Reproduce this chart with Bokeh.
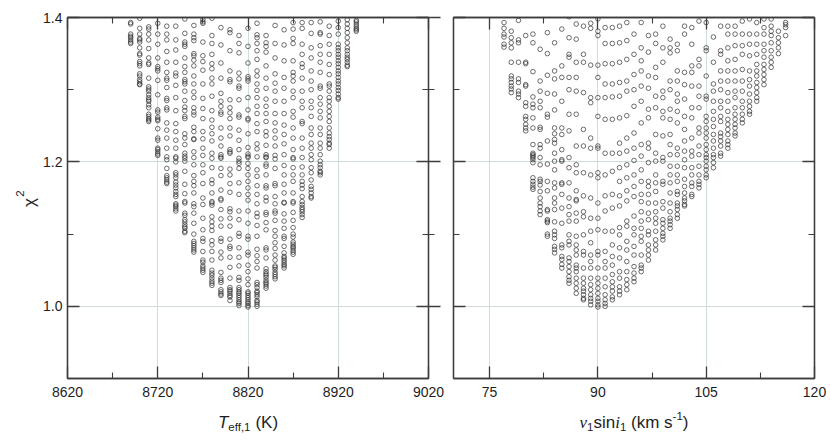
import math
from bokeh.plotting import figure
from bokeh.models import Range1d, FixedTicker, LinearAxis, Label, PrintfTickFormatter, CustomJSTickFormatter
from bokeh.layouts import row, column
from bokeh.embed import file_html
from bokeh.resources import INLINE

# ---------------- data: left panel, chi^2 values per Teff,1 grid column ----------------
T8690 = [1.393, 1.391, 1.377, 1.374, 1.372, 1.369, 1.366, 1.364]
T8700 = [1.399, 1.385, 1.377, 1.371, 1.369, 1.366, 1.358, 1.350, 1.348, 1.339, 1.336, 1.333, 1.322, 1.319, 1.314, 1.311, 1.308, 1.307]
T8710 = [1.387, 1.384, 1.377, 1.369, 1.357, 1.344, 1.337, 1.335, 1.316, 1.304, 1.301, 1.298, 1.293, 1.289, 1.286, 1.284, 1.279, 1.275, 1.266, 1.263, 1.260, 1.258, 1.256]
T8720 = [1.392, 1.377, 1.363, 1.344, 1.332, 1.329, 1.326, 1.313, 1.293, 1.272, 1.269, 1.262, 1.259, 1.257, 1.246, 1.233, 1.230, 1.219, 1.217, 1.214, 1.211, 1.209]
T8730 = [1.388, 1.377, 1.369, 1.353, 1.338, 1.324, 1.316, 1.313, 1.303, 1.288, 1.285, 1.275, 1.272, 1.254, 1.244, 1.233, 1.219, 1.207, 1.203, 1.191, 1.181, 1.178, 1.175, 1.172, 1.170]
T8740 = [1.388, 1.369, 1.355, 1.338, 1.323, 1.319, 1.306, 1.289, 1.271, 1.253, 1.242, 1.230, 1.219, 1.207, 1.205, 1.200, 1.185, 1.182, 1.178, 1.172, 1.168, 1.164, 1.159, 1.155, 1.152, 1.142, 1.140, 1.138, 1.135, 1.132]
T8750 = [1.398, 1.378, 1.366, 1.363, 1.360, 1.344, 1.332, 1.324, 1.314, 1.311, 1.308, 1.298, 1.285, 1.276, 1.271, 1.263, 1.260, 1.239, 1.233, 1.224, 1.212, 1.208, 1.205, 1.201, 1.187, 1.169, 1.156, 1.145, 1.143, 1.129, 1.126, 1.120, 1.117, 1.113, 1.110, 1.108, 1.104, 1.102]
T8760 = [1.389, 1.377, 1.372, 1.368, 1.350, 1.347, 1.341, 1.333, 1.319, 1.308, 1.297, 1.289, 1.275, 1.269, 1.265, 1.248, 1.242, 1.232, 1.231, 1.214, 1.206, 1.196, 1.181, 1.173, 1.167, 1.157, 1.142, 1.138, 1.129, 1.115, 1.100, 1.090, 1.087, 1.084, 1.081, 1.078, 1.075]
T8770 = [1.397, 1.394, 1.392, 1.366, 1.347, 1.339, 1.327, 1.308, 1.288, 1.274, 1.260, 1.242, 1.232, 1.219, 1.209, 1.196, 1.185, 1.170, 1.150, 1.141, 1.122, 1.106, 1.094, 1.090, 1.076, 1.064, 1.061, 1.056, 1.053, 1.050, 1.047]
T8780 = [1.399, 1.375, 1.364, 1.349, 1.336, 1.329, 1.316, 1.308, 1.291, 1.271, 1.258, 1.248, 1.239, 1.229, 1.212, 1.205, 1.192, 1.175, 1.170, 1.157, 1.145, 1.143, 1.140, 1.124, 1.117, 1.111, 1.105, 1.091, 1.085, 1.076, 1.064, 1.050, 1.046, 1.043, 1.039, 1.035, 1.032, 1.029]
T8790 = [1.386, 1.362, 1.337, 1.316, 1.295, 1.284, 1.277, 1.269, 1.266, 1.247, 1.233, 1.222, 1.210, 1.207, 1.205, 1.191, 1.181, 1.161, 1.149, 1.147, 1.134, 1.121, 1.111, 1.094, 1.090, 1.075, 1.067, 1.047, 1.039, 1.036, 1.033, 1.023, 1.020, 1.017, 1.015]
T8800 = [1.383, 1.379, 1.354, 1.326, 1.314, 1.311, 1.286, 1.275, 1.268, 1.260, 1.247, 1.236, 1.217, 1.214, 1.212, 1.190, 1.182, 1.170, 1.158, 1.135, 1.131, 1.122, 1.111, 1.093, 1.083, 1.080, 1.068, 1.054, 1.039, 1.026, 1.023, 1.021, 1.018, 1.015, 1.013, 1.008]
T8810 = [1.375, 1.364, 1.351, 1.323, 1.315, 1.305, 1.302, 1.286, 1.265, 1.262, 1.244, 1.230, 1.217, 1.205, 1.201, 1.198, 1.191, 1.171, 1.155, 1.132, 1.120, 1.101, 1.097, 1.081, 1.068, 1.056, 1.040, 1.036, 1.026, 1.023, 1.020, 1.018, 1.015, 1.012, 1.009, 1.006, 1.004, 1.001]
T8820 = [1.385, 1.360, 1.337, 1.318, 1.315, 1.312, 1.289, 1.272, 1.260, 1.258, 1.239, 1.220, 1.211, 1.208, 1.206, 1.198, 1.191, 1.182, 1.173, 1.164, 1.155, 1.147, 1.132, 1.115, 1.097, 1.093, 1.075, 1.071, 1.057, 1.048, 1.038, 1.030, 1.020, 1.018, 1.015, 1.012, 1.009, 1.006, 1.004, 1.001, 0.999]
T8830 = [1.392, 1.376, 1.372, 1.364, 1.354, 1.342, 1.326, 1.319, 1.308, 1.299, 1.289, 1.277, 1.267, 1.253, 1.242, 1.225, 1.218, 1.207, 1.189, 1.180, 1.167, 1.155, 1.142, 1.129, 1.124, 1.112, 1.097, 1.079, 1.070, 1.062, 1.053, 1.033, 1.030, 1.026, 1.021, 1.019, 1.016, 1.013, 1.008, 1.006, 1.003, 1.000]
T8840 = [1.375, 1.365, 1.360, 1.352, 1.333, 1.316, 1.302, 1.287, 1.277, 1.267, 1.256, 1.242, 1.236, 1.223, 1.210, 1.207, 1.206, 1.197, 1.194, 1.182, 1.167, 1.164, 1.151, 1.146, 1.130, 1.127, 1.116, 1.106, 1.081, 1.078, 1.067, 1.052, 1.048, 1.045, 1.043, 1.040, 1.036, 1.033, 1.031, 1.028, 1.025]
T8850 = [1.389, 1.364, 1.344, 1.322, 1.309, 1.298, 1.284, 1.267, 1.254, 1.243, 1.233, 1.222, 1.209, 1.204, 1.191, 1.170, 1.167, 1.152, 1.142, 1.132, 1.129, 1.119, 1.105, 1.097, 1.088, 1.080, 1.071, 1.064, 1.056, 1.054, 1.051, 1.047, 1.044, 1.041, 1.038]
T8860 = [1.383, 1.362, 1.340, 1.317, 1.302, 1.284, 1.267, 1.251, 1.238, 1.225, 1.210, 1.195, 1.182, 1.169, 1.157, 1.144, 1.143, 1.128, 1.118, 1.108, 1.097, 1.094, 1.083, 1.074, 1.069, 1.067, 1.064, 1.061, 1.058, 1.056, 1.053]
T8870 = [1.393, 1.384, 1.371, 1.364, 1.340, 1.324, 1.319, 1.312, 1.298, 1.289, 1.270, 1.262, 1.247, 1.233, 1.217, 1.206, 1.204, 1.192, 1.182, 1.173, 1.157, 1.145, 1.143, 1.130, 1.119, 1.109, 1.100, 1.096, 1.089, 1.086, 1.083, 1.081, 1.078, 1.075, 1.072]
T8880 = [1.393, 1.385, 1.363, 1.349, 1.336, 1.331, 1.316, 1.298, 1.284, 1.275, 1.256, 1.253, 1.233, 1.219, 1.206, 1.193, 1.182, 1.173, 1.168, 1.163, 1.152, 1.145, 1.141, 1.137, 1.134, 1.131, 1.127, 1.123]
T8890 = [1.393, 1.378, 1.358, 1.344, 1.326, 1.312, 1.300, 1.284, 1.275, 1.263, 1.247, 1.238, 1.226, 1.219, 1.210, 1.203, 1.192, 1.185, 1.175, 1.166, 1.162, 1.157, 1.152, 1.150]
T8900 = [1.394, 1.379, 1.377, 1.361, 1.349, 1.338, 1.324, 1.305, 1.302, 1.289, 1.280, 1.270, 1.261, 1.247, 1.238, 1.226, 1.219, 1.210, 1.201, 1.196, 1.192, 1.187, 1.185, 1.182]
T8910 = [1.388, 1.375, 1.363, 1.349, 1.335, 1.321, 1.308, 1.305, 1.298, 1.289, 1.284, 1.277, 1.270, 1.263, 1.256, 1.247, 1.240, 1.235, 1.231, 1.226, 1.224, 1.219]
T8920 = [1.395, 1.386, 1.377, 1.363, 1.358, 1.354, 1.349, 1.345, 1.340, 1.336, 1.331, 1.326, 1.322, 1.317, 1.312, 1.308, 1.303, 1.299, 1.294, 1.289, 1.287]
T8930 = [1.397, 1.391, 1.385, 1.379, 1.372, 1.365, 1.358, 1.354, 1.349, 1.345, 1.342, 1.338, 1.334, 1.332]
T8940 = [1.396, 1.394, 1.391, 1.388, 1.385, 1.383, 1.381]

teff_grid = [8690, 8700, 8710, 8720, 8730, 8740, 8750, 8760, 8770, 8780, 8790, 8800, 8810,
             8820, 8830, 8840, 8850, 8860, 8870, 8880, 8890, 8900, 8910, 8920, 8930, 8940]
chi2_by_teff = [T8690, T8700, T8710, T8720, T8730, T8740, T8750, T8760, T8770, T8780, T8790, T8800, T8810,
                T8820, T8830, T8840, T8850, T8860, T8870, T8880, T8890, T8900, T8910, T8920, T8930, T8940]

# ---------------- data: right panel, chi^2 values per v1 sin i1 grid column ----------------
V77 = [1.393, 1.385, 1.377, 1.373, 1.363, 1.359]
V78 = [1.381, 1.372, 1.365, 1.358, 1.338, 1.319, 1.315, 1.310, 1.305, 1.301, 1.296]
V79 = [1.396, 1.369, 1.365, 1.338, 1.315, 1.310, 1.298, 1.294, 1.289]
V80 = [1.375, 1.338, 1.336, 1.307, 1.305, 1.282, 1.277, 1.263, 1.259, 1.252, 1.247, 1.243]
V81 = [1.377, 1.365, 1.325, 1.290, 1.280, 1.275, 1.261, 1.247, 1.224, 1.212, 1.210, 1.208, 1.206, 1.203, 1.199, 1.178, 1.173, 1.169, 1.165, 1.162]
V82 = [1.356, 1.312, 1.298, 1.284, 1.275, 1.248, 1.245, 1.224, 1.219, 1.206, 1.196, 1.176, 1.173, 1.168, 1.159, 1.150, 1.143, 1.138, 1.132, 1.127]
V83 = [1.379, 1.350, 1.320, 1.295, 1.266, 1.262, 1.229, 1.197, 1.173, 1.160, 1.134, 1.132, 1.120, 1.118, 1.116, 1.100, 1.097]
V84 = [1.365, 1.326, 1.315, 1.294, 1.272, 1.247, 1.239, 1.231, 1.226, 1.212, 1.201, 1.189, 1.171, 1.164, 1.150, 1.143, 1.134, 1.117, 1.104, 1.099, 1.094, 1.083, 1.079, 1.074]
V85 = [1.384, 1.333, 1.317, 1.284, 1.247, 1.238, 1.217, 1.203, 1.201, 1.171, 1.169, 1.155, 1.136, 1.115, 1.085, 1.081, 1.069, 1.065, 1.058, 1.053]
V86 = [1.401, 1.372, 1.349, 1.345, 1.317, 1.300, 1.266, 1.243, 1.206, 1.192, 1.171, 1.150, 1.138, 1.127, 1.118, 1.099, 1.090, 1.085, 1.067, 1.062, 1.055, 1.048, 1.041, 1.036, 1.032]
V87 = [1.391, 1.370, 1.338, 1.317, 1.298, 1.266, 1.222, 1.196, 1.185, 1.160, 1.148, 1.146, 1.129, 1.118, 1.097, 1.085, 1.078, 1.071, 1.057, 1.053, 1.048, 1.039, 1.032, 1.025, 1.018]
V88 = [1.388, 1.349, 1.338, 1.296, 1.245, 1.222, 1.185, 1.153, 1.131, 1.124, 1.099, 1.076, 1.071, 1.053, 1.039, 1.032, 1.025, 1.021, 1.016, 1.011, 1.009]
V89 = [1.392, 1.385, 1.334, 1.289, 1.282, 1.233, 1.219, 1.182, 1.150, 1.122, 1.104, 1.088, 1.071, 1.062, 1.053, 1.039, 1.030, 1.023, 1.016, 1.011, 1.007, 1.002]
V90 = [1.398, 1.381, 1.375, 1.334, 1.317, 1.289, 1.263, 1.222, 1.219, 1.185, 1.178, 1.143, 1.122, 1.106, 1.076, 1.071, 1.053, 1.039, 1.032, 1.025, 1.018, 1.011, 1.007, 1.002, 0.999]
V91 = [1.386, 1.364, 1.336, 1.308, 1.289, 1.259, 1.212, 1.182, 1.153, 1.132, 1.104, 1.076, 1.062, 1.053, 1.039, 1.027, 1.016, 1.009, 1.004, 1.000]
V92 = [1.386, 1.364, 1.336, 1.308, 1.290, 1.259, 1.212, 1.187, 1.155, 1.136, 1.104, 1.085, 1.069, 1.057, 1.044, 1.034, 1.027, 1.021, 1.013, 1.009]
V93 = [1.388, 1.365, 1.338, 1.310, 1.291, 1.261, 1.226, 1.212, 1.192, 1.173, 1.153, 1.139, 1.109, 1.099, 1.081, 1.067, 1.048, 1.039, 1.027, 1.021, 1.016]
V94 = [1.393, 1.368, 1.342, 1.312, 1.298, 1.264, 1.233, 1.215, 1.196, 1.178, 1.160, 1.146, 1.118, 1.111, 1.090, 1.078, 1.062, 1.048, 1.037, 1.030, 1.023]
V95 = [1.377, 1.349, 1.321, 1.300, 1.277, 1.240, 1.219, 1.202, 1.182, 1.166, 1.152, 1.125, 1.108, 1.099, 1.083, 1.071, 1.055, 1.046, 1.039, 1.034]
V96 = [1.393, 1.358, 1.340, 1.326, 1.305, 1.284, 1.254, 1.224, 1.208, 1.189, 1.173, 1.155, 1.145, 1.131, 1.118, 1.108, 1.097, 1.090, 1.071, 1.057, 1.053, 1.048]
V97 = [1.375, 1.352, 1.319, 1.302, 1.273, 1.261, 1.226, 1.219, 1.199, 1.173, 1.166, 1.155, 1.143, 1.129, 1.120, 1.104, 1.099, 1.085, 1.078, 1.071, 1.064]
V98 = [1.377, 1.364, 1.331, 1.317, 1.291, 1.275, 1.238, 1.212, 1.201, 1.182, 1.171, 1.159, 1.143, 1.131, 1.122, 1.115, 1.104, 1.092, 1.085, 1.078]
V99 = [1.388, 1.358, 1.338, 1.298, 1.289, 1.270, 1.261, 1.236, 1.206, 1.201, 1.173, 1.169, 1.145, 1.136, 1.120, 1.115, 1.108, 1.101, 1.097, 1.092]
V100 = [1.370, 1.358, 1.351, 1.312, 1.300, 1.273, 1.259, 1.238, 1.224, 1.210, 1.194, 1.182, 1.171, 1.157, 1.143, 1.131, 1.122, 1.118, 1.113, 1.108]
V101 = [1.363, 1.354, 1.326, 1.312, 1.294, 1.284, 1.270, 1.254, 1.219, 1.210, 1.194, 1.182, 1.173, 1.159, 1.155, 1.143, 1.139, 1.134, 1.127, 1.122]
V102 = [1.388, 1.377, 1.324, 1.307, 1.287, 1.263, 1.245, 1.229, 1.215, 1.203, 1.192, 1.176, 1.166, 1.157, 1.150, 1.146, 1.141, 1.139]
V103 = [1.386, 1.363, 1.333, 1.324, 1.305, 1.275, 1.261, 1.233, 1.215, 1.208, 1.192, 1.182, 1.171, 1.166, 1.155, 1.152]
V104 = [1.395, 1.342, 1.333, 1.305, 1.291, 1.275, 1.247, 1.240, 1.222, 1.210, 1.194, 1.182, 1.173, 1.169, 1.164]
V105 = [1.393, 1.358, 1.354, 1.319, 1.291, 1.287, 1.263, 1.256, 1.247, 1.240, 1.233, 1.224, 1.217, 1.210, 1.206, 1.201, 1.194, 1.189, 1.182, 1.178]
V106 = [1.373, 1.338, 1.308, 1.298, 1.284, 1.270, 1.259, 1.249, 1.238, 1.229, 1.219, 1.210, 1.206, 1.199, 1.192]
V107 = [1.388, 1.354, 1.349, 1.326, 1.312, 1.300, 1.284, 1.275, 1.263, 1.256, 1.240, 1.235, 1.229, 1.222, 1.212, 1.208]
V108 = [1.388, 1.377, 1.358, 1.340, 1.326, 1.312, 1.296, 1.284, 1.270, 1.259, 1.252, 1.245, 1.238, 1.229, 1.224, 1.219]
V109 = [1.388, 1.377, 1.361, 1.342, 1.326, 1.312, 1.298, 1.289, 1.275, 1.266, 1.259, 1.252, 1.247, 1.240, 1.236]
V110 = [1.395, 1.377, 1.361, 1.349, 1.328, 1.312, 1.298, 1.284, 1.275, 1.266, 1.259, 1.254]
V111 = [1.398, 1.377, 1.363, 1.347, 1.326, 1.314, 1.305, 1.294, 1.284, 1.277, 1.270, 1.266]
V112 = [1.393, 1.377, 1.363, 1.349, 1.335, 1.326, 1.319, 1.310, 1.303, 1.296, 1.289, 1.284]
V113 = [1.398, 1.386, 1.377, 1.363, 1.354, 1.345, 1.335, 1.328, 1.321, 1.314, 1.307]
V114 = [1.398, 1.388, 1.381, 1.375, 1.365, 1.354, 1.345, 1.338, 1.331]
V115 = [1.381, 1.372, 1.365, 1.358, 1.350]
V116 = [1.393, 1.390, 1.386, 1.375]

vsini_grid = list(range(77, 117))
chi2_by_vsini = [V77, V78, V79, V80, V81, V82, V83, V84, V85, V86, V87, V88, V89, V90, V91, V92, V93, V94, V95, V96,
                 V97, V98, V99, V100, V101, V102, V103, V104, V105, V106, V107, V108, V109, V110, V111, V112, V113,
                 V114, V115, V116]

# ---------------- axes definitions ----------------
teff_ticks = [8620, 8720, 8820, 8920, 9020]
teff_minor = [8670, 8770, 8870, 8970]
vsini_ticks = [75, 90, 105, 120]
vsini_minor = [82.5, 97.5, 112.5]
chi2_ticks = [1.0, 1.2, 1.4]
chi2_minor = [1.1, 1.3]

AXC = "#3c3c3c"
GRIDC = "#d2dcdc"
TXT = "#1e1e1e"
FONT = "Liberation Sans"
SERIF = "Liberation Serif"
FW = 361
FH = 361
TOPB = 17          # space above the frames
BOTB = 30          # space below the frames (tick labels)
PH = TOPB + FH + BOTB
YTW = 40           # width of the strip holding the y title
TTH = 34           # height of the strip holding the x titles


def flatten(grid, cols):
    xs, ys = [], []
    for gx, col in zip(grid, cols):
        for v in col:
            xs.append(gx)
            ys.append(v)
    return xs, ys


def style_axis(ax, ticker, fmt, labels, tin, tout, mtin, mtout, standoff):
    ax.ticker = ticker
    ax.axis_line_color = AXC
    ax.axis_line_width = 1.3
    ax.major_tick_line_color = AXC
    ax.major_tick_line_width = 1.3
    ax.minor_tick_line_color = AXC
    ax.minor_tick_line_width = 1.1
    ax.major_tick_in = tin
    ax.major_tick_out = tout
    ax.minor_tick_in = mtin
    ax.minor_tick_out = mtout
    ax.major_label_text_font = FONT
    ax.major_label_text_font_size = "14px"
    ax.major_label_standoff = standoff
    ax.axis_label = None
    if labels:
        ax.formatter = PrintfTickFormatter(format=fmt)
        ax.major_label_text_color = TXT
    else:
        ax.formatter = CustomJSTickFormatter(code="return ''")
        ax.major_label_text_color = None


def make_panel(xr, xticks, xminor, xs, ys, bl, br, ylabels, right_cross):
    p = figure(title=None, x_range=Range1d(*xr), y_range=Range1d(0.9, 1.4),
               frame_width=FW, frame_height=FH,
               min_border_left=bl, min_border_right=br, min_border_top=TOPB, min_border_bottom=BOTB,
               output_backend="svg", toolbar_location=None,
               background_fill_color="white", border_fill_color="white")
    p.outline_line_color = AXC
    p.outline_line_width = 1.3
    xt = FixedTicker(ticks=xticks, minor_ticks=xminor)
    yt = FixedTicker(ticks=chi2_ticks, minor_ticks=chi2_minor)
    style_axis(p.below[0], xt, "%d", True, 12, 0, 6, 0, 8)
    style_axis(p.left[0], yt, "%.1f", ylabels, 12, 0, 6, 0, 5 if ylabels else 0)
    top = LinearAxis()
    style_axis(top, xt, "%d", False, 12, 0, 6, 0, 0)
    p.add_layout(top, "above")
    right = LinearAxis()
    if right_cross:
        style_axis(right, yt, "%.1f", False, 12, 12, 6, 6, 0)
    else:
        style_axis(right, yt, "%.1f", False, 12, 0, 6, 0, 0)
    p.add_layout(right, "right")
    for g in p.xgrid + p.ygrid:
        g.grid_line_color = GRIDC
        g.grid_line_width = 1.0
    p.scatter(xs, ys, marker="circle", size=4.6, fill_color=None,
              line_color="#2a2a2a", line_width=0.75, line_alpha=0.9)
    return p


def blank(width, height):
    b = figure(title=None, x_range=Range1d(0, 1), y_range=Range1d(0, 1), frame_width=width, frame_height=height,
               min_border=0, x_axis_type=None, y_axis_type=None, output_backend="svg",
               toolbar_location=None, background_fill_color="white", border_fill_color="white")
    b.outline_line_color = None
    return b


# Arial/Liberation metrics (per 1000 em) for placing the composite axis titles
SANS_W = {' ': 278, '(': 333, ')': 333, 'K': 667, 'T': 611, 'e': 556, 'f': 278, ',': 278,
          '1': 556, 's': 500, 'i': 222, 'n': 556, 'k': 500, 'm': 833, '-': 333, '2': 556}
SERIF_IT_W = {'v': 444, 'i': 278}


def text_width(txt, size, serif):
    table = SERIF_IT_W if serif else SANS_W
    return sum(table.get(c, 556) for c in txt) * size / 1000.0


def add_title(p, pieces, cx, base_y):
    total = sum(text_width(t, s, ser) for t, s, ser, it, dy in pieces)
    x = cx - total / 2.0
    for t, s, ser, it, dy in pieces:
        lead = len(t) - len(t.lstrip(' '))
        shown = t.lstrip(' ')
        xs = x + lead * SANS_W[' '] * s / 1000.0
        p.add_layout(Label(x=xs, y=base_y + dy, x_units="screen", y_units="screen", text=shown,
                           text_font=SERIF if ser else FONT, text_font_size=f"{s}px",
                           text_font_style="italic" if it else "normal", text_color=TXT,
                           text_align="left", text_baseline="alphabetic"))
        x += text_width(t, s, ser)


tx, ty = flatten(teff_grid, chi2_by_teff)
vx, vy = flatten(vsini_grid, chi2_by_vsini)

LB1 = 67 - YTW
RB2 = 14
p1 = make_panel((8620, 9020), teff_ticks, teff_minor, tx, ty, LB1, 16, True, True)
p2 = make_panel((70, 120), vsini_ticks, vsini_minor, vx, vy, 9, RB2, False, False)

# y-axis title strip
py = blank(YTW, PH)
py.add_layout(Label(x=29, y=PH - 185, x_units="screen", y_units="screen", text="χ",
                    text_font=FONT, text_font_size="17px", angle=math.pi / 2, text_align="center",
                    text_baseline="alphabetic", text_color=TXT))
py.add_layout(Label(x=19.5, y=PH - 176, x_units="screen", y_units="screen", text="2",
                    text_font=FONT, text_font_size="11.5px", angle=math.pi / 2, text_align="center",
                    text_baseline="alphabetic", text_color=TXT))

# x-axis titles strip
total_w = YTW + LB1 + FW + 16 + 9 + FW + RB2
pt = blank(total_w, TTH)
BIG = 17
SMALL = 11.5
base = (PH + TTH) - 422
c1 = YTW + LB1 + FW / 2.0
c2 = YTW + LB1 + FW + 16 + 9 + FW / 2.0
add_title(pt, [("T", BIG, False, True, 0), ("eff,1", SMALL, False, False, -4.5), (" (K)", BIG, False, False, 0)], c1, base)
add_title(pt, [("v", BIG, True, True, 0), ("1", SMALL, False, False, -4.5), ("sin", BIG, False, False, 0),
               ("i", BIG, True, True, 0), ("1", SMALL, False, False, -4.5), (" (km s", BIG, False, False, 0),
               ("-1", SMALL, False, False, 6.5), (")", BIG, False, False, 0)], c2, base)

layout = column(row(py, p1, p2), pt)
open("out.html", "w").write(file_html(layout, INLINE))
